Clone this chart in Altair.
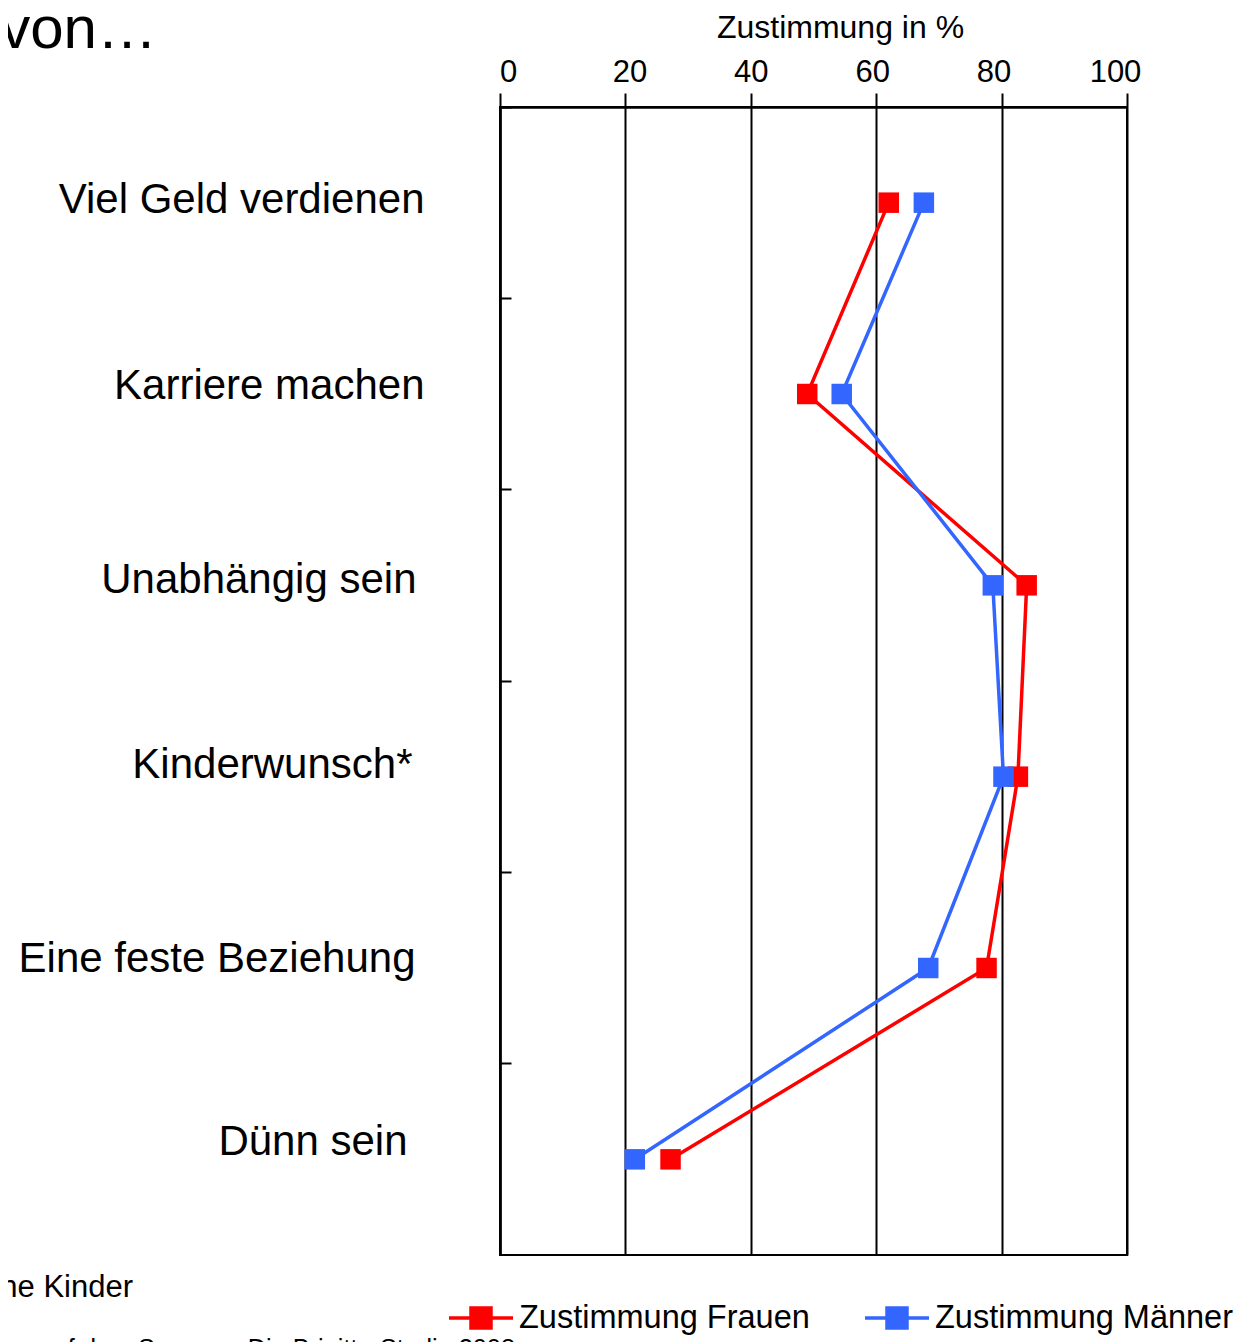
import json
import altair as alt
import pandas as pd

# ---------------- data ----------------
categories = ["Viel Geld verdienen", "Karriere machen", "Unabhängig sein",
              "Kinderwunsch*", "Eine feste Beziehung", "Dünn sein"]
frauen = [62, 49, 84, 82.6, 77.6, 27.2]
maenner = [67.6, 54.5, 78.6, 80.3, 68.3, 21.5]
series = ["Zustimmung Frauen", "Zustimmung Männer"]
x_ticks = [0, 20, 40, 60, 80, 100]
x_title = "Zustimmung in %"
heading = "von…"
footnote = "*nur Befragte ohne Kinder"
source = "Quelle: Frauen auf dem Sprung – Die Brigitte-Studie 2008"

# ---------------- styles ----------------
FONT = "Liberation Sans"
COLORS = ["#ff0000", "#3366ff"]
label_dy = [-3, -8.5, -5, -11.5, -9, -17]
label_pad = [76, 76, 84, 88, 85, 93]

rows = []
for s, vals in zip(series, [frauen, maenner]):
    for i, (c, v) in enumerate(zip(categories, vals)):
        rows.append({"Serie": s, "Kategorie": c, "Wert": v, "idx": i})
df = pd.DataFrame(rows)

cats_js = json.dumps(categories, ensure_ascii=False)
dy_expr = f"{json.dumps(label_dy)}[indexof({cats_js}, datum.value)]"
pad_expr = f"{json.dumps(label_pad)}[indexof({cats_js}, datum.value)]"

color_scale = alt.Scale(domain=series, range=COLORS)
y_scale = alt.Scale(type="band", domain=categories, paddingInner=0, paddingOuter=0)

x_axis = alt.Axis(
    orient="top", values=x_ticks, title=x_title, grid=True,
    gridColor="black", gridWidth=2, gridOpacity=1,
    domainColor="black", domainWidth=2.5,
    tickColor="black", tickWidth=2, tickSize=14,
    labelFontSize=31, labelFont=FONT, labelColor="black",
    labelPadding=5, labelFlush=False,
    labelOffset={"expr": "(40 - datum.value) * 0.2"},
    titleFontSize=32, titleFont=FONT, titleColor="black",
    titleFontWeight="normal", titlePadding=12, titleX=340,
)
x_enc = alt.X("Wert:Q", scale=alt.Scale(domain=[0, 100], nice=False), axis=x_axis)

y_left = alt.Axis(
    orient="left", title=None, ticks=False, tickSize=0, domain=True,
    domainColor="black", domainWidth=2.5, grid=False,
    labelFontSize=42, labelFont=FONT, labelColor="black",
    labelAlign="right", labelBaseline="middle", labelLimit=1000,
    labelPadding={"expr": pad_expr}, labelOffset={"expr": dy_expr},
)
y_right = alt.Axis(
    orient="right", offset=-627, title=None, labels=False, domain=False,
    ticks=True, tickSize=11, tickWidth=2, tickColor="black",
    bandPosition=0, grid=False,
)

SYMBOL = "M-1.6,0L-0.5,0M0.5,0L1.6,0M-0.5,-0.5L0.5,-0.5L0.5,0.5L-0.5,0.5Z"
legend = alt.Legend(
    orient="none", legendX=-41, legendY=1189, direction="horizontal",
    title=None, symbolType=SYMBOL, symbolSize=1600, symbolStrokeWidth=3.5,
    labelFontSize=32.5, labelFont=FONT, labelColor="black",
    labelOffset=16, columnPadding=48, padding=0, labelLimit=1000,
)

base = alt.Chart(df)

lines = base.mark_line(strokeWidth=3.5).encode(
    x=x_enc,
    y=alt.Y("Kategorie:N", scale=y_scale, sort=categories, axis=y_left),
    color=alt.Color("Serie:N", scale=color_scale, legend=legend),
    order=alt.Order("idx:Q"),
)

points = base.mark_point(shape="square", filled=True, size=420, opacity=1).encode(
    x=x_enc,
    y=alt.Y("Kategorie:N", scale=y_scale, sort=categories, axis=y_right),
    fill=alt.Fill("Serie:N", scale=color_scale, legend=None),
)

head = alt.Chart(pd.DataFrame({"t": [heading]})).mark_text(
    align="right", baseline="alphabetic", fontSize=60, font=FONT, color="black"
).encode(text="t:N", x=alt.value(-343), y=alt.value(-59))

foot = alt.Chart(pd.DataFrame({"t": [footnote]})).mark_text(
    align="right", baseline="alphabetic", fontSize=31, font=FONT, color="black"
).encode(text="t:N", x=alt.value(-367), y=alt.value(1190))

src = alt.Chart(pd.DataFrame({"t": [source]})).mark_text(
    align="right", baseline="alphabetic", fontSize=25.3, font=FONT, color="black"
).encode(text="t:N", x=alt.value(15), y=alt.value(1250))

chart = alt.layer(lines, points, head, foot, src).resolve_axis(y="independent").properties(
    width=627, height=1148,
    autosize=alt.AutoSizeParams(type="none"),
    padding={"left": 492, "top": 99, "right": 112, "bottom": 87},
    background="white",
).configure_view(stroke="black", strokeWidth=2)

chart.save("out.html", embed_options={"renderer": "svg", "actions": False})
